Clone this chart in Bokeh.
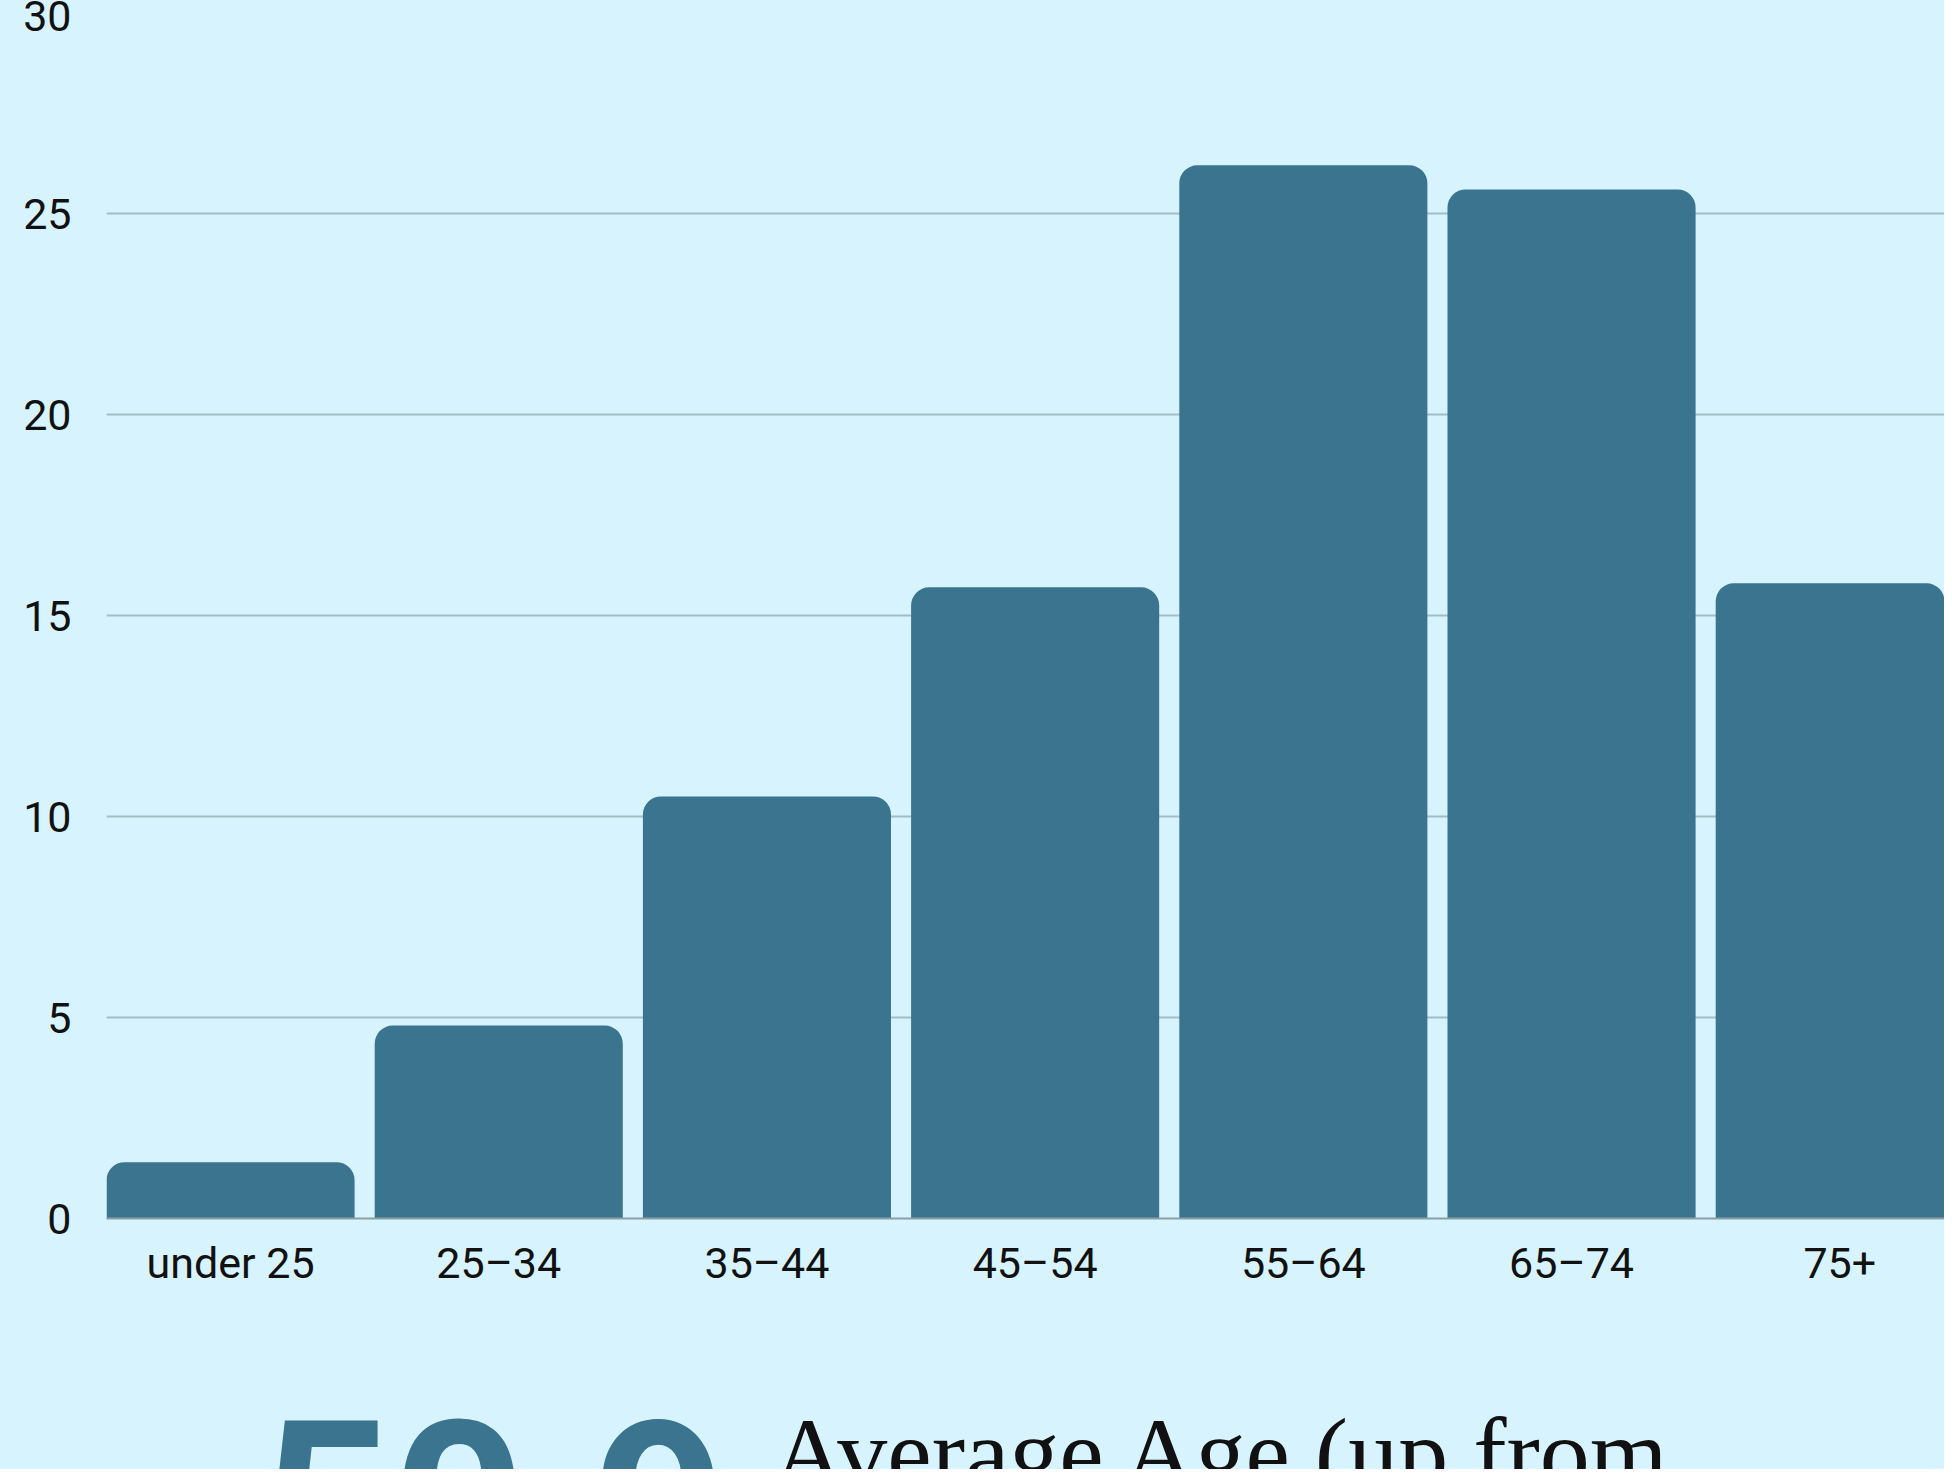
from bokeh.plotting import figure
from bokeh.models import Range1d, FixedTicker
from bokeh.layouts import column
from bokeh.core.properties import value
from bokeh.embed import file_html
from bokeh.resources import INLINE

# ---- data ----
categories = ["under 25", "25\u201334", "35\u201344", "45\u201354", "55\u201364", "65\u201374", "75+"]
shares = [1.4, 4.8, 10.5, 15.7, 26.2, 25.6, 15.8]
y_ticks = [0, 5, 10, 15, 20, 25, 30]
avg_age_text = ["50.9"]
avg_age_label = ["Average Age (up from"]

BG = "#D7F4FE"
BAR = "#3A748F"

W = 1944
LEFT = 106
H_TOP = 1300
H_BOTTOM = 169

xs = list(range(len(categories)))
bar_w = 0.925
frame_w = W - LEFT
x_start = -bar_w / 2
x_end = x_start + frame_w / 268.2

p = figure(width=W, height=H_TOP, output_backend="svg", toolbar_location=None,
           x_range=Range1d(x_start, x_end), y_range=Range1d(0, 30),
           min_border_left=LEFT, min_border_right=0, min_border_top=12,
           min_border_bottom=H_TOP - 1218)

p.background_fill_color = BG
p.border_fill_color = BG
p.outline_line_color = None

p.vbar(x=xs, top=shares, width=bar_w, bottom=0, fill_color=BAR, line_color=None,
       border_radius=(18, 18, 0, 0))

# grid
p.xgrid.grid_line_color = None
p.ygrid.grid_line_color = "#A2BCC4"
p.ygrid.grid_line_width = 2
p.ygrid.ticker = FixedTicker(ticks=y_ticks)

# y axis
p.yaxis.ticker = FixedTicker(ticks=y_ticks)
p.yaxis.axis_line_color = None
p.yaxis.major_tick_line_color = None
p.yaxis.minor_tick_line_color = None
p.yaxis.major_label_standoff = 29
p.yaxis.major_label_text_font = "Roboto"
p.yaxis.major_label_text_font_size = "43px"
p.yaxis.major_label_text_color = "#111111"

# x axis
p.xaxis.ticker = FixedTicker(ticks=xs)
p.xaxis.major_label_overrides = {i: c for i, c in zip(xs, categories)}
p.xaxis.axis_line_color = "#8C9EA5"
p.xaxis.axis_line_width = 2
p.xaxis.major_tick_line_color = None
p.xaxis.minor_tick_line_color = None
p.xaxis.major_label_standoff = 13
p.xaxis.major_label_text_font = "Roboto"
p.xaxis.major_label_text_font_size = "43px"
p.xaxis.major_label_text_color = "#111111"

# ---- bottom strip with the (page-cropped) headline texts ----
# its frame is aligned with the chart frame above, so map x in page pixels
p2 = figure(width=W, height=H_BOTTOM, output_backend="svg", toolbar_location=None,
            x_range=Range1d(LEFT, W), y_range=Range1d(H_BOTTOM, 0),
            x_axis_location=None, y_axis_location=None,
            min_border_left=LEFT, min_border_right=0, min_border_top=0, min_border_bottom=0)
p2.grid.visible = False
p2.background_fill_color = BG
p2.border_fill_color = BG
p2.outline_line_color = None

p2.text(x=[259], y=[119], text=avg_age_text, text_font=value("Roboto"),
        text_font_style="bold", text_font_size=value("232px"), text_color=BAR,
        text_align="left", text_baseline="top")
p2.text(x=[772], y=[97], text=avg_age_label, text_font=value("Liberation Serif"),
        text_font_size=value("100px"), text_color="#111111",
        text_align="left", text_baseline="top")

layout = column(p, p2, spacing=0)
layout.styles = {"background-color": BG}

open("out.html", "w").write(file_html(layout, INLINE))
